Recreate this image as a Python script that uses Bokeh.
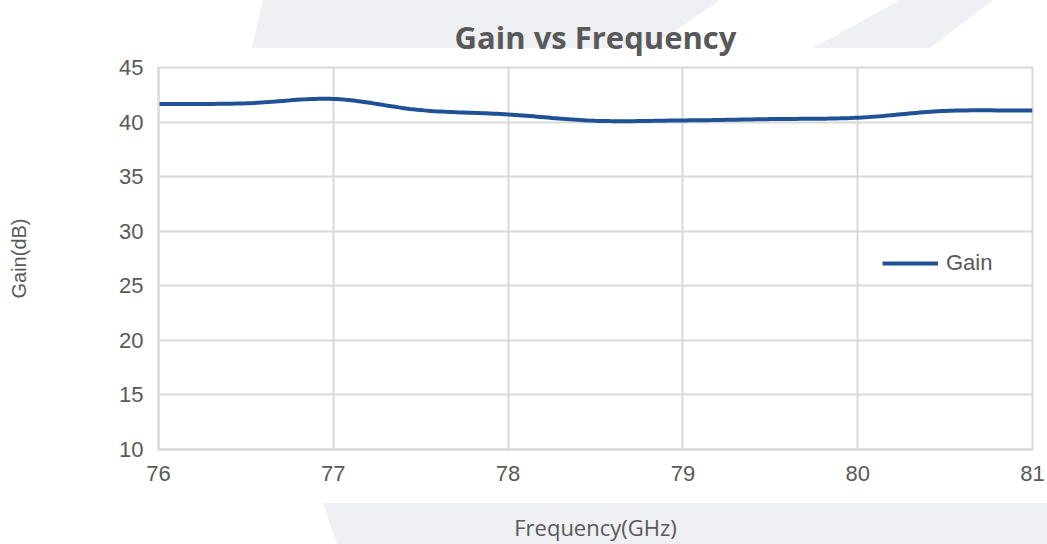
from bokeh.plotting import figure
from bokeh.models import (Legend, LegendItem, FixedTicker, Range1d, InlineStyleSheet)
from bokeh.embed import file_html
from bokeh.resources import INLINE
import numpy as np

# ---- data ----
freq_ghz = [76, 76.5, 77, 77.5, 78, 78.5, 79, 79.5, 80, 80.5, 81]
gain_db = [41.65, 41.72, 42.12, 41.1, 40.7, 40.12, 40.15, 40.27, 40.4, 41.02, 41.05]
x_ticks = [76, 77, 78, 79, 80, 81]
y_ticks = [10, 15, 20, 25, 30, 35, 40, 45]
series_name = "Gain"
title_text = "Gain vs Frequency"
x_label = "Frequency(GHz)"
y_label = "Gain(dB)"


def smooth(xs, ys, n=24):
    """Catmull-Rom smoothing (like a spreadsheet's smoothed line)."""
    xs = np.asarray(xs, float)
    ys = np.asarray(ys, float)
    px = np.concatenate([[2 * xs[0] - xs[1]], xs, [2 * xs[-1] - xs[-2]]])
    py = np.concatenate([[ys[0]], ys, [ys[-1]]])
    ox, oy = [], []
    for i in range(1, len(px) - 2):
        t = np.linspace(0, 1, n, endpoint=False)
        for arr, out in ((px, ox), (py, oy)):
            p0, p1, p2, p3 = arr[i - 1], arr[i], arr[i + 1], arr[i + 2]
            out.extend(0.5 * ((2 * p1) + (-p0 + p2) * t
                              + (2 * p0 - 5 * p1 + 4 * p2 - p3) * t ** 2
                              + (-p0 + 3 * p1 - 3 * p2 + p3) * t ** 3))
    ox.append(xs[-1])
    oy.append(ys[-1])
    return ox, oy


W, H = 1047, 544

# faint decorative watermark behind the title and the x-axis label
band = "%23eff0f4"
svg_bg = (
    f"<svg xmlns='http://www.w3.org/2000/svg' width='{W}' height='{H}'>"
    f"<polygon points='263,0 720,0 650,48 252,48' fill='{band}'/>"
    f"<polygon points='900,0 993,0 930,48 813,48' fill='{band}'/>"
    f"<polygon points='323,503 {W},503 {W},{H} 337,{H}' fill='{band}'/>"
    "</svg>"
)
css = InlineStyleSheet(css=(
    ":host { background-color: white; "
    f"background-image: url(\"data:image/svg+xml;utf8,{svg_bg}\"); "
    "background-repeat: no-repeat; background-position: 0 0; }"
))

p = figure(width=W, height=H, output_backend="svg", toolbar_location=None,
           x_range=Range1d(76, 81), y_range=Range1d(10, 45),
           min_border_left=158, min_border_right=15, min_border_top=67,
           min_border_bottom=95, stylesheets=[css])
p.border_fill_alpha = 0

sx, sy = smooth(freq_ghz, gain_db)
r = p.line(sx, sy, line_color="#1f5196", line_width=4)

p.title.text = title_text
p.title.align = "center"
p.title.vertical_align = "bottom"
p.title.text_font = "Open Sans"
p.title.text_font_style = "bold"
p.title.text_font_size = "31px"
p.title.text_color = "#595959"
p.title.standoff = 20

p.xaxis.ticker = FixedTicker(ticks=x_ticks)
p.yaxis.ticker = FixedTicker(ticks=y_ticks)
for ax in (p.xaxis[0], p.yaxis[0]):
    ax.major_tick_in = 0
    ax.major_tick_out = 0
    ax.minor_tick_in = 0
    ax.minor_tick_out = 0
    ax.axis_line_color = "#d9d9d9"
    ax.axis_line_width = 2
    ax.major_label_text_font = "Liberation Sans"
    ax.major_label_text_font_size = "22px"
    ax.major_label_text_color = "#595959"
    ax.axis_label_text_font_style = "normal"
    ax.axis_label_text_color = "#595959"

p.xaxis.major_label_standoff = 16
p.xaxis.axis_label = x_label
p.xaxis.axis_label_text_font = "Open Sans"
p.xaxis.axis_label_text_font_size = "22px"
p.xaxis.axis_label_standoff = 28

p.yaxis.major_label_standoff = 15
p.yaxis.axis_label = y_label
p.yaxis.axis_label_text_font = "Liberation Sans"
p.yaxis.axis_label_text_font_size = "20px"
p.yaxis.axis_label_standoff = 86

p.grid.grid_line_color = "#d9d9d9"
p.grid.grid_line_width = 2
p.outline_line_color = "#d9d9d9"
p.outline_line_width = 2
p.background_fill_color = "white"

legend = Legend(items=[LegendItem(label=series_name, renderers=[r])],
                location=(724, 173), orientation="vertical",
                border_line_alpha=0, background_fill_alpha=0,
                padding=0, margin=0, glyph_width=56, glyph_height=26,
                label_height=26, label_standoff=8,
                label_text_font="Liberation Sans", label_text_font_size="22px",
                label_text_color="#595959")
p.add_layout(legend)

open("out.html", "w").write(file_html(p, INLINE))
